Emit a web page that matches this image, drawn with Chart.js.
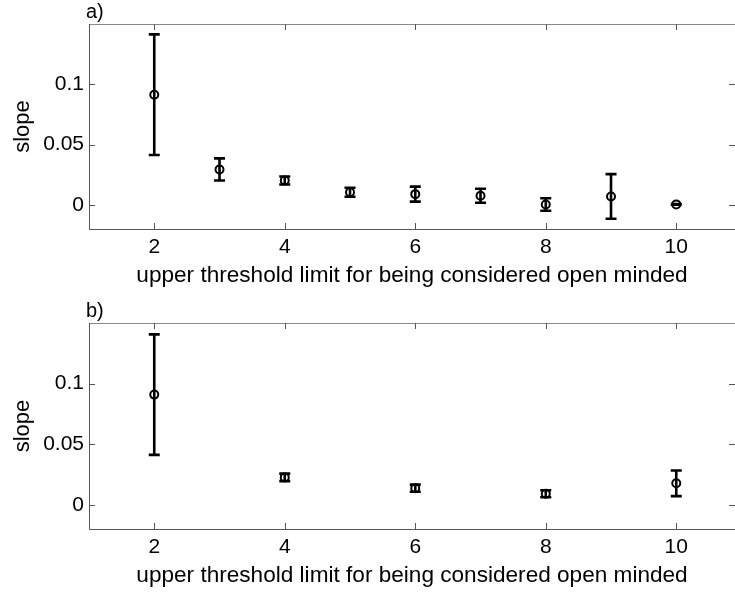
<!DOCTYPE html>
<html>
<head>
<meta charset="utf-8">
<script src="https://cdn.jsdelivr.net/npm/chart.js@4.4.1/dist/chart.umd.min.js"></script>
<style>
html, body { margin: 0; padding: 0; background: #ffffff; overflow: hidden; }
canvas { display: block; }
</style>
</head>
<body>
<canvas id="panel-a" width="735" height="297"></canvas>
<canvas id="panel-b" width="735" height="297"></canvas>
<script>
// tick labels
const x_ticks = [2, 4, 6, 8, 10];
const y_ticks = [0, 0.05, 0.1];

// panel a) thresholds 2..10
const a_threshold = [2, 3, 4, 5, 6, 7, 8, 9, 10];
const a_slope = [0.0914, 0.0294, 0.0202, 0.0105, 0.0089, 0.0076, 0.0003, 0.0070, 0.0004];
const a_error = [0.0500, 0.0092, 0.0033, 0.0037, 0.0062, 0.0058, 0.0052, 0.0185, 0.0003];

// panel b) even thresholds only
const b_threshold = [2, 4, 6, 8, 10];
const b_slope = [0.0909, 0.0226, 0.0137, 0.0091, 0.0177];
const b_error = [0.0497, 0.0031, 0.0029, 0.0029, 0.0106];

const x_title = 'upper threshold limit for being considered open minded';
const y_title = 'slope';
const font_family = '"Liberation Sans", Arial, Helvetica, sans-serif';

Chart.defaults.font.family = font_family;
Chart.defaults.color = '#000000';

// vertical error bars with caps, drawn under the circles
const error_bars = {
    id: 'errorBars',
    beforeDatasetsDraw(chart)
    {
        const ctx = chart.ctx;
        const xs = chart.scales.x;
        const ys = chart.scales.y;
        const ds = chart.data.datasets[0];
        const cap = 5.5;
        ctx.save();
        ctx.strokeStyle = '#000000';
        ctx.lineWidth = 2.6;
        ds.data.forEach((p, i) => {
            const px = xs.getPixelForValue(p.x);
            const top = ys.getPixelForValue(p.y + ds.errors[i]);
            const bottom = ys.getPixelForValue(p.y - ds.errors[i]);
            ctx.beginPath();
            ctx.moveTo(px, top);
            ctx.lineTo(px, bottom);
            ctx.moveTo(px - cap, top);
            ctx.lineTo(px + cap, top);
            ctx.moveTo(px - cap, bottom);
            ctx.lineTo(px + cap, bottom);
            ctx.stroke();
        });
        ctx.restore();
    }
};

// matlab style box with inward ticks + panel letter
const frame = {
    id: 'frame',
    afterDraw(chart, args, opts)
    {
        const ctx = chart.ctx;
        const a = chart.chartArea;
        const xs = chart.scales.x;
        const ys = chart.scales.y;
        const tick = 6;
        ctx.save();
        ctx.lineWidth = 1;
        ctx.strokeStyle = '#8a8a8a';
        ctx.beginPath();
        ctx.moveTo(a.left, a.top + 0.5);
        ctx.lineTo(a.right, a.top + 0.5);
        ctx.stroke();

        ctx.strokeStyle = '#555555';
        ctx.beginPath();
        ctx.moveTo(a.left + 0.5, a.top);
        ctx.lineTo(a.left + 0.5, a.bottom + 0.5);
        ctx.lineTo(a.right, a.bottom + 0.5);
        ctx.stroke();

        ctx.beginPath();
        x_ticks.forEach(v => {
            const px = Math.round(xs.getPixelForValue(v)) + 0.5;
            ctx.moveTo(px, a.bottom);
            ctx.lineTo(px, a.bottom - tick);
            ctx.moveTo(px, a.top);
            ctx.lineTo(px, a.top + tick);
        });
        y_ticks.forEach(v => {
            const py = Math.round(ys.getPixelForValue(v)) + 0.5;
            ctx.moveTo(a.left, py);
            ctx.lineTo(a.left + tick, py);
            ctx.moveTo(a.right, py);
            ctx.lineTo(a.right - tick, py);
        });
        ctx.stroke();

        ctx.fillStyle = '#000000';
        ctx.font = '20px ' + font_family;
        ctx.textAlign = 'left';
        ctx.textBaseline = 'alphabetic';
        ctx.fillText(opts.label, a.left - 3, a.top - 6);
        ctx.restore();
    }
};

function makePanel(canvas_id, label, xs, ys, errs, top_pad, plot_height, title_pad)
{
    const points = xs.map((x, i) => ({x: x, y: ys[i]}));
    const ctx = document.getElementById(canvas_id).getContext('2d');
    return new Chart(ctx, {
        type: 'scatter',
        data: {
            datasets: [{
                data: points,
                errors: errs,
                showLine: false,
                clip: false,
                pointRadius: 4,
                pointHoverRadius: 4,
                pointBorderWidth: 2,
                pointBorderColor: '#000000',
                pointBackgroundColor: 'rgba(0,0,0,0)'
            }]
        },
        options: {
            responsive: false,
            animation: false,
            devicePixelRatio: 1,
            layout: {
                autoPadding: false,
                padding: { top: top_pad, left: 0, right: 0, bottom: 0 }
            },
            plugins: {
                legend: { display: false },
                tooltip: { enabled: false },
                frame: { label: label }
            },
            scales: {
                x: {
                    type: 'linear',
                    min: 1,
                    max: 10.9,
                    grid: { display: false, drawTicks: false },
                    border: { display: false },
                    ticks: {
                        font: { size: 21 },
                        color: '#000000',
                        padding: 6,
                        maxRotation: 0,
                        callback: v => String(v)
                    },
                    afterBuildTicks: s => { s.ticks = x_ticks.map(v => ({value: v})); },
                    afterFit: s => {
                        s.height = 297 - top_pad - plot_height;
                        s.paddingLeft = 0;
                        s.paddingRight = 0;
                    },
                    title: {
                        display: true,
                        text: x_title,
                        font: { size: 22.6 },
                        color: '#000000',
                        padding: { top: 0, bottom: title_pad }
                    }
                },
                y: {
                    type: 'linear',
                    min: -0.02,
                    max: 0.15,
                    grid: { display: false, drawTicks: false },
                    border: { display: false },
                    ticks: {
                        font: { size: 21 },
                        color: '#000000',
                        padding: 5,
                        callback: v => String(v)
                    },
                    afterBuildTicks: s => { s.ticks = y_ticks.map(v => ({value: v})); },
                    afterFit: s => {
                        s.width = 89;
                        s.paddingTop = 0;
                        s.paddingBottom = 0;
                    },
                    title: {
                        display: true,
                        text: y_title,
                        font: { size: 22 },
                        color: '#000000',
                        padding: { top: 9.5, bottom: 0 }
                    }
                }
            }
        },
        plugins: [error_bars, frame]
    });
}

makePanel('panel-a', 'a)', a_threshold, a_slope, a_error, 24, 205, 7.5);
makePanel('panel-b', 'b)', b_threshold, b_slope, b_error, 26, 206, 4.2);
</script>
</body>
</html>
